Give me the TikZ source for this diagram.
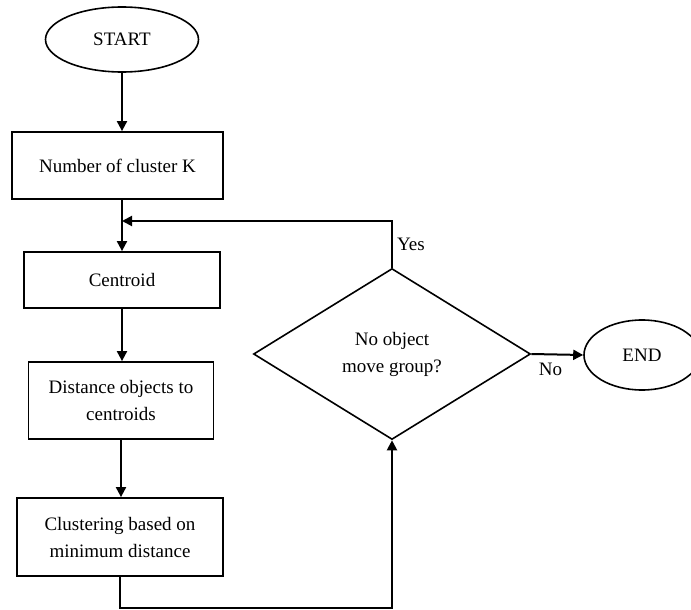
\documentclass[tikz,border=0pt]{standalone}
\usepackage{fontspec}
\setmainfont{Liberation Serif}
\usetikzlibrary{arrows.meta,shapes.geometric}

\begin{document}
\begin{tikzpicture}[
  x=0.5pt, y=-0.5pt,
  term/.style={draw, ellipse, line width=0.8pt, inner sep=0pt},
  proc/.style={draw, line width=0.9pt, align=center, inner sep=2pt},
  cond/.style={draw, diamond, line width=0.8pt, align=center, inner sep=0pt},
  arr/.style={-{Triangle[length=5pt,width=5pt]}, line width=1pt},
  lbl/.style={inner sep=2pt},
  every node/.style={font=\fontsize{9.5}{13.5}\selectfont}
]
\useasboundingbox (0,0) rectangle (691,610);

\node[term, minimum width=76.5pt, minimum height=32.5pt] (start) at (122,39.5) {START};
\node[proc, minimum width=105.5pt, minimum height=33.5pt] (k) at (117.5,165.5) {Number of cluster K};
\node[proc, minimum width=98pt, minimum height=28pt] (cent) at (122,280) {Centroid};
\node[proc, minimum width=92.5pt, minimum height=38.5pt] (dist) at (121,400.5) {Distance objects to\\centroids};
\node[proc, minimum width=103pt, minimum height=39pt] (clus) at (120,537) {Clustering based on\\minimum distance};
\node[cond, minimum width=138.5pt, minimum height=85.5pt] (dec) at (392,354) {No object\\move group?};
\node[term, minimum width=58pt, minimum height=35pt] (end) at (642,355) {END};

\coordinate (loop) at (392,221);
\coordinate (bot) at (392,608);

\draw[arr] (start.south) -- (start.south |- k.north);
\draw[arr] (cent.north |- k.south) -- (cent.north);
\draw[arr] (cent.south) -- (cent.south |- dist.north);
\draw[arr] (dist.south) -- (dist.south |- clus.north);
\draw[arr] (clus.south) -- (clus.south |- bot) -- (bot) -- (dec.south);
\draw[arr] (dec.north) -- node[lbl, right]{Yes} (loop) -- (cent.north |- loop);
\draw[arr] (dec.east) -- node[lbl, below=2pt, pos=0.37]{No} (end.west);
\end{tikzpicture}
\end{document}
